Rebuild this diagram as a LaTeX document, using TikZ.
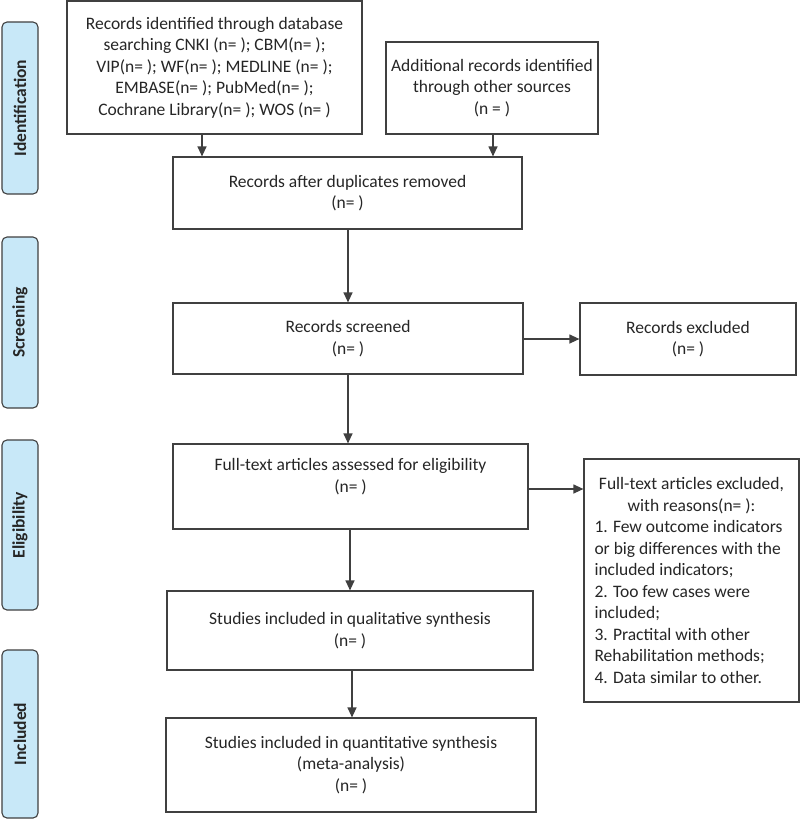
\documentclass[tikz,border=0pt]{standalone}
\usepackage{fontspec}
\setmainfont{Carlito}
\usetikzlibrary{arrows.meta}
\definecolor{stroke}{HTML}{404040}
\definecolor{phasefill}{HTML}{C8E8F8}
\begin{document}
\begin{tikzpicture}[x=1pt,y=-1pt,
  every node/.style={font=\fontsize{17.5}{21.5}\selectfont, text=black!85},
  box/.style={draw=stroke, line width=1.2pt, fill=white, align=center, inner sep=0pt},
  phase/.style={draw=stroke, line width=1.1pt, fill=phasefill, rounded corners=5pt,
     inner sep=0pt, rotate=90,
     font=\fontsize{17.5}{20}\selectfont\bfseries},
  arr/.style={draw=stroke, line width=1.2pt, -{Triangle[length=10pt,width=9pt]}}]
\useasboundingbox (0,0) rectangle (800,823);
\fill[white] (0,0) rectangle (800,823);

% phase labels
\node[phase, minimum width=172pt, minimum height=36pt] (pid) at (20,108) {Identification};
\node[phase, minimum width=171pt, minimum height=36pt] (psc) at (20,322.5) {Screening};
\node[phase, minimum width=170pt, minimum height=36pt] (pel) at (20,525) {Eligibility};
\node[phase, minimum width=168pt, minimum height=36pt] (pin) at (20,734) {Included};

% boxes
\node[box, minimum width=295pt, minimum height=133pt] (db) at (214.5,67.5)
 {Records identified through database\\ searching CNKI (n= ); CBM(n= );\\ VIP(n= ); WF(n= ); MEDLINE (n= );\\ EMBASE(n= ); PubMed(n= );\\ Cochrane Library(n= ); WOS (n= )};
\node[box, minimum width=212pt, minimum height=92pt] (add) at (492,88)
 {Additional records identified\\ through other sources\\ (n = )};
\node[box, minimum width=349pt, minimum height=72pt] (dup) at (347.5,193)
 {Records after duplicates removed\\ (n= )};
\node[box, minimum width=350pt, minimum height=71pt] (scr) at (348,338.5)
 {Records screened\\ (n= )};
\node[box, minimum width=216pt, minimum height=72pt] (exc) at (688,339)
 {Records excluded\\ (n= )};
\node[box, minimum width=355pt, minimum height=85pt, text depth=22pt] (full) at (350.5,486.5)
 {Full-text articles assessed for eligibility\\ (n= )};
\node[box, minimum width=215pt, minimum height=243pt] (rsn) at (691.5,580.5)
 {\begin{minipage}{194pt}\fontsize{17.5}{21.5}\selectfont
  {\centering Full-text articles excluded,\\ with reasons(n= ):\par}
  {\raggedright 1. Few outcome indicators\\ or big differences with the\\ included indicators;\\ 2. Too few cases were\\ included;\\ 3. Practital with other\\ Rehabilitation methods;\\ 4. Data similar to other.\par}
  \end{minipage}};
\node[box, minimum width=366pt, minimum height=79pt] (qual) at (350,630.5)
 {Studies included in qualitative synthesis\\ (n= )};
\node[box, minimum width=370pt, minimum height=94pt] (quant) at (351,765)
 {Studies included in quantitative synthesis\\ (meta-analysis)\\ (n= )};

% arrow start points
\coordinate (s1) at (202,134);
\coordinate (s2) at (493,134);
\coordinate (s3) at (348,229);
\coordinate (s4) at (523,339);
\coordinate (s5) at (348,374);
\coordinate (s6) at (528,489);
\coordinate (s7) at (350,529);
\coordinate (s8) at (352,670);

\draw[arr] (s1) -- (s1 |- dup.north);
\draw[arr] (s2) -- (s2 |- dup.north);
\draw[arr] (s3) -- (s3 |- scr.north);
\draw[arr] (s4) -- (s4 -| exc.west);
\draw[arr] (s5) -- (s5 |- full.north);
\draw[arr] (s6) -- (s6 -| rsn.west);
\draw[arr] (s7) -- (s7 |- qual.north);
\draw[arr] (s8) -- (s8 |- quant.north);
\end{tikzpicture}
\end{document}
